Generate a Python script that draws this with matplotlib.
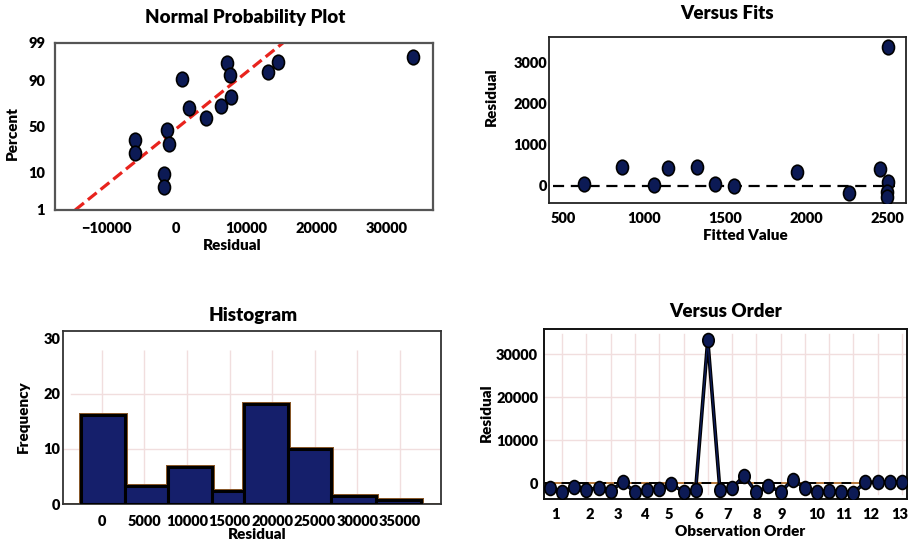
from statistics import NormalDist
import numpy as np
import matplotlib
matplotlib.use("Agg")
import matplotlib.pyplot as plt
from matplotlib.markers import MarkerStyle
from matplotlib.transforms import Affine2D

# --- data ---
npp_resid = [33740, 14560, 7220, 13050, 7590, 850, 7830, 1750, 6400, 4230,
             -1330, -1000, -5840, -5840, -1810, -1810]
npp_pct = [97.4, 96.4, 96.1, 93.5, 92.3, 90.6, 79.2, 69.4, 71.9, 59.0,
           46.1, 31.0, 35.0, 23.3, 9.4, 4.5]
fit_mean = 385
fit_sd = 6365
pct_ticks = [1, 10, 50, 90, 99]

fits_x = [630, 862, 1064, 1150, 1325, 1438, 1557, 1946, 2265, 2455,
          2504, 2504, 2500, 2500]
fits_y = [50, 456, 17, 446, 456, 49, 0, 334, -163, 415, 3383, 98, -139, -261]

hist_edges = [-2460, 2700, 7820, 12930, 16740, 21870, 26950, 32150, 37460]
hist_freq = [16.2, 3.2, 6.7, 2.4, 18.1, 9.9, 1.5, 0.7]

order_resid = [-1020, -1950, -790, -1560, -1020, -1790, 370, -2090, -1560, -1400,
               -230, -1950, -1560, 33330, -1560, -1160, 1770, -2090, -630, -1950,
               770, -1020, -1950, -1720, -1950, -2190, 230, 230, 370, 230]
order_labels = [str(i) for i in range(1, 14)]
order_tick_pos = [1.49, 4.24, 6.63, 8.77, 10.81, 13.23, 15.62, 18.07, 20.10,
                  22.99, 25.18, 27.44, 29.85]

navy = "#0c1a55"
bar_navy = "#151f6b"
grid_pink = "#f1dede"
nd = NormalDist()
W = "heavy"


def z(p):
    return np.array([nd.inv_cdf(v / 100.0) for v in np.atleast_1d(p)])


plt.rcParams["font.family"] = ["Lato", "DejaVu Sans"]
plt.rcParams["font.weight"] = W
plt.rcParams["axes.labelweight"] = W
plt.rcParams["axes.titleweight"] = W

fig = plt.figure(figsize=(9.08, 5.43), dpi=100)
oval = MarkerStyle("o", transform=Affine2D().scale(0.82, 1.0))

TICK = 10.5
LAB = 11
TIT = 13.5


def style(ax, spine_color, lw, xpad, ypad):
    for s in ax.spines.values():
        s.set_color(spine_color)
        s.set_linewidth(lw)
    ax.tick_params(length=0, labelsize=TICK)
    ax.tick_params(axis="x", pad=xpad)
    ax.tick_params(axis="y", pad=ypad)
    for t in ax.get_xticklabels() + ax.get_yticklabels():
        t.set_fontweight(W)


def labels(ax, title, xl, yl, tpos, xpos, ypos):
    ax.text(tpos[0], tpos[1], title, transform=ax.transAxes, ha="center",
            va="center", fontsize=TIT, fontweight=W)
    ax.set_xlabel(xl, fontsize=LAB, fontweight=W)
    ax.set_ylabel(yl, fontsize=LAB, fontweight=W)
    ax.xaxis.set_label_coords(*xpos)
    ax.yaxis.set_label_coords(*ypos)
    ax.xaxis.label.set_va("center")
    ax.yaxis.label.set_va("center")


# Normal probability plot
ax1 = fig.add_axes([0.0606, 0.6133, 0.4163, 0.3076])
zr = z([1, 99])
ax1.plot(fit_mean + fit_sd * zr, zr, color="#e8231d", lw=2.3,
         ls=(0, (3.5, 1.6)), zorder=2)
ax1.plot(npp_resid, z(npp_pct), ls="none", marker=oval, ms=10.5,
         mfc=navy, mec="black", mew=1.2, zorder=3)
ax1.set_xlim(-17300, 36600)
ax1.set_ylim(zr[0], zr[1])
ax1.set_xticks([-10000, 0, 10000, 20000, 30000])
ax1.set_yticks(z(pct_ticks))
ax1.set_yticklabels([str(p) for p in pct_ticks])
style(ax1, "#555555", 1.6, 8.4, 7.2)
labels(ax1, "Normal Probability Plot", "Residual", "Percent",
       (0.503, 1.150), (0.468, -0.21), (-0.112, 0.461))

# Versus fits
ax2 = fig.add_axes([0.6046, 0.6262, 0.3932, 0.3057])
ax2.axhline(0, xmin=0.01, xmax=0.97, color="black", lw=1.6,
            ls=(0, (5, 3)), zorder=2)
ax2.plot(fits_x, fits_y, ls="none", marker=oval, ms=10.5,
         mfc=navy, mec="black", mew=1.2, zorder=3)
ax2.set_xlim(414, 2617)
ax2.set_ylim(-415, 3630)
ax2.set_xticks([500, 1000, 1500, 2000, 2500])
ax2.set_yticks([0, 1000, 2000, 3000])
style(ax2, "#222222", 1.3, 6.2, 1.5)
labels(ax2, "Versus Fits", "Fitted Value", "Residual",
       (0.4986, 1.139), (0.549, -0.193), (-0.1605, 0.639))

# Histogram
ax3 = fig.add_axes([0.0694, 0.0718, 0.4163, 0.3186])
hist_xt = np.arange(0, 40000, 5000)
ax3.vlines(hist_xt, 0, 28, color=grid_pink, lw=1.0, zorder=0)
ax3.axhline(10, color=grid_pink, lw=1.0, zorder=0)
ax3.axhline(20, xmin=0.02, color=grid_pink, lw=1.0, zorder=0)
ax3.axhline(0, color="#9a6a3a", lw=1.2, zorder=1)
left = hist_edges[:-1]
width = np.diff(hist_edges)
ax3.bar(left, hist_freq, width=width, align="edge", color=bar_navy,
        edgecolor="#8b5a2b", lw=3.6, zorder=2)
ax3.bar(left, hist_freq, width=width, align="edge", color=bar_navy,
        edgecolor="black", lw=2.2, zorder=3)
ax3.set_xlim(-4530, 39800)
ax3.set_ylim(0, 31.4)
ax3.set_xticks(hist_xt)
ax3.set_yticks([0, 10, 20, 30])
style(ax3, "#333333", 1.3, 8, 2)
labels(ax3, "Histogram", "Residual", "Frequency",
       (0.503, 1.0925), (0.513, -0.178), (-0.1058, 0.503))

# Versus order
ax4 = fig.add_axes([0.5995, 0.0805, 0.3991, 0.3131])
obs = np.arange(1, len(order_resid) + 1)
for xg in obs[1::2]:
    ax4.axvline(xg, ymin=0.03, ymax=0.97, color=grid_pink, lw=1.0, zorder=0)
for yg in [10000, 20000, 30000]:
    ax4.axhline(yg, color=grid_pink, lw=1.0, zorder=0)
ax4.axhline(0, color="#b5773a", lw=1.4, zorder=1)
ax4.axhline(0, color="black", lw=1.4, ls=(0, (5, 4)), zorder=1)
ax4.plot(obs, order_resid, color="black", lw=2.6, zorder=2)
ax4.plot(obs, order_resid, color=navy, lw=1.0, marker=oval, ms=10,
         mfc=navy, mec="black", mew=1.2, zorder=3)
ax4.set_xlim(0.53, 30.4)
ax4.set_ylim(-3720, 35800)
ax4.set_xticks(order_tick_pos)
ax4.set_xticklabels(order_labels)
ax4.set_yticks([0, 10000, 20000, 30000])
style(ax4, "#111111", 1.4, 6.3, 4.5)
labels(ax4, "Versus Order", "Observation Order", "Residual",
       (0.501, 1.1035), (0.540, -0.192), (-0.159, 0.508))

fig.savefig("out.png", dpi=100)
plt.close(fig)
